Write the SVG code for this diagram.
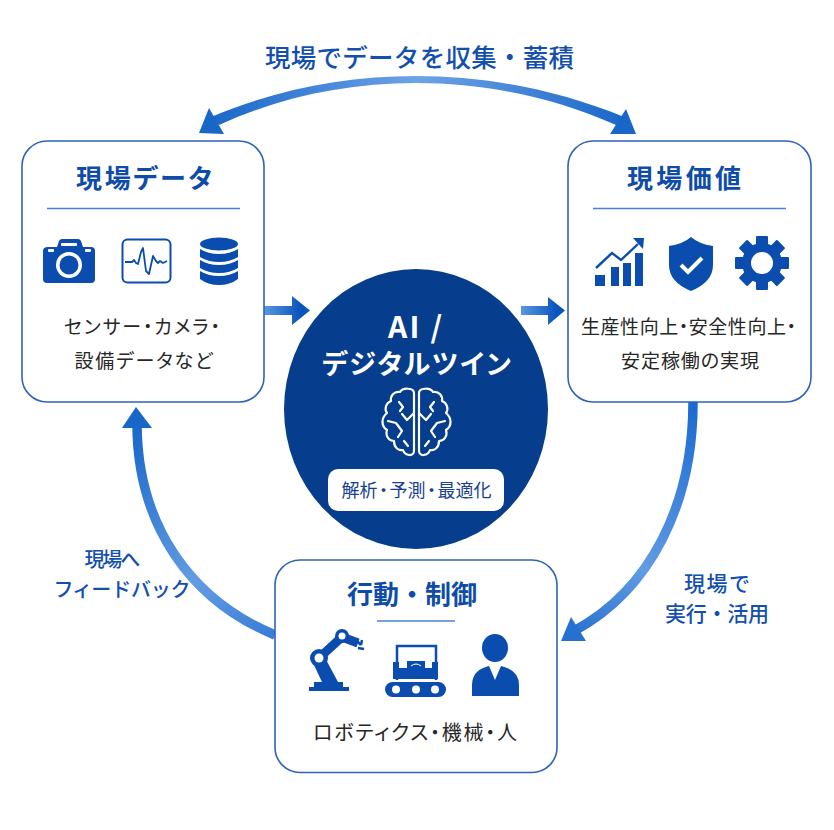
<svg xmlns="http://www.w3.org/2000/svg" xmlns:xlink="http://www.w3.org/1999/xlink" width="834" height="830" viewBox="0 0 834 830">
<style>
text{font-family:"Noto Sans CJK JP","Noto Sans",sans-serif;text-anchor:middle;font-feature-settings:"palt"}
.full{font-feature-settings:normal}
.box{fill:#fff;stroke:#2f62bc;stroke-width:1.6}
.div{stroke:#4a80d8;stroke-width:1.5;fill:none}
.title{fill:#0f4ca8;font-size:26px;font-weight:700}
.lab{fill:#1350ae;font-size:20px;font-weight:500}
.body{fill:#262626;font-size:19px;font-weight:400}
.ic{fill:#0a4dae}
.wh{fill:#fff}
.arc{fill:none}
.br{fill:none;stroke:#fff;stroke-width:2.2;stroke-linecap:round;stroke-linejoin:round}
</style>
<defs>
<linearGradient id="gTop" gradientUnits="userSpaceOnUse" x1="205" y1="0" x2="630" y2="0"><stop offset="0" stop-color="#1766c8"/><stop offset="0.5" stop-color="#6ea3e6"/><stop offset="1" stop-color="#1766c8"/></linearGradient>
<linearGradient id="gRight" gradientUnits="userSpaceOnUse" x1="693" y1="402" x2="570" y2="635"><stop offset="0" stop-color="#1a6ad0"/><stop offset="0.65" stop-color="#629ce3"/><stop offset="1" stop-color="#2670d0"/></linearGradient>
<linearGradient id="gLeft" gradientUnits="userSpaceOnUse" x1="275" y1="635" x2="136" y2="420"><stop offset="0" stop-color="#3a7dd8"/><stop offset="0.35" stop-color="#629ce3"/><stop offset="1" stop-color="#1766c8"/></linearGradient>
<linearGradient id="gL" gradientUnits="userSpaceOnUse" x1="264" y1="0" x2="300" y2="0"><stop offset="0" stop-color="#5b98e2"/><stop offset="1" stop-color="#0a55bd"/></linearGradient>
<linearGradient id="gR" gradientUnits="userSpaceOnUse" x1="521" y1="0" x2="556" y2="0"><stop offset="0" stop-color="#5b98e2"/><stop offset="1" stop-color="#0a55bd"/></linearGradient>
<g id="halfBrain">
<path class="br" d="M414,393C414,388 403,387 400,392C394,391 390,396 391,401C386,403 384,409 387,413C381,418 381,426 387,430C385,436 389,441 394,441C394,448 399,451 403,450C405,456 414,457 414,451Z"/>
<path class="br" d="M414,413L407,420L402,414M399,402L403,407L400,411M388,421L396,423L402,431L398,437M404,441L408,446"/>
</g>
</defs>
<rect width="834" height="830" fill="#fff"/>
<g id="connectors">
<path fill="url(#gTop)" d="M211,117C340,62.300 490,62.300 624,117L616,125C490,69 340,69 219,125Z"/>
<polygon fill="#1766c8" points="199,133 209,108 224,134"/>
<polygon fill="#1766c8" points="636,134 626,109 610,134"/>
<path class="arc" stroke="url(#gRight)" stroke-width="9.500" d="M693,402C693,505 650,590 574,631"/>
<polygon fill="#2670d0" points="561,641 571,617 586,641"/>
<path class="arc" stroke="url(#gLeft)" stroke-width="9.500" d="M275,635C190,600 138,525 137,426"/>
<polygon fill="#1766c8" points="136,407 122,428 152,428"/>
<path fill="url(#gL)" d="M264,306H292V296L310,310.500L292,325V315H264Z"/>
<path fill="url(#gR)" d="M521,306H548V297L565,310.500L548,325V315H521Z"/>
</g>
<text class="lab full" x="419.500" y="67" style="font-size:25.500px" textLength="309">現場でデータを収集・蓄積</text>
<g id="node-data">
<rect class="box" x="22" y="141" width="242" height="261" rx="25"/>
<text class="title" x="144" y="188" textLength="136">現場データ</text>
<path class="div" d="M47,208.500H240"/>
<path class="ic" d="M48,247H57L59,241Q60,239 62,239H78Q80,239 81,241L83,247H91Q95,247 95,251V279Q95,283 91,283H47Q43,283 43,279V251Q43,247 48,247Z"/>
<rect class="wh" x="48" y="249" width="6" height="3" rx="1"/><rect class="wh" x="85" y="249" width="6" height="3" rx="1"/><rect class="wh" x="61" y="243" width="16" height="3" rx="1"/>
<circle class="wh" cx="69" cy="265" r="13"/><circle class="ic" cx="69" cy="265" r="9.500"/>
<rect x="122.500" y="239.500" width="48" height="43" rx="5" fill="#fff" stroke="#0a4dae" stroke-width="2"/>
<path d="M125,262H132L134,260L136,263L138,264L141,252L143,248L146,271L149,274L153,256L156,261L158,263L160,261L163,263L167,261" fill="none" stroke="#0a4dae" stroke-width="1.800" stroke-linejoin="round"/>
<ellipse class="ic" cx="219" cy="244" rx="19" ry="6.500"/>
<path class="ic" d="M200,249Q208,254 219,254Q230,254 238,249V257Q230,262 219,262Q208,262 200,257Z"/>
<path class="ic" d="M200,260Q208,265 219,265Q230,265 238,260V268Q230,273 219,273Q208,273 200,268Z"/>
<path class="ic" d="M200,271Q208,276 219,276Q230,276 238,271V279Q230,285 219,285Q208,285 200,279Z"/>
<text class="body" x="142" y="334" textLength="156">センサー・カメラ・</text>
<text class="body" x="143.500" y="368" textLength="138">設備データなど</text>
</g>
<g id="node-value">
<rect class="box" x="568" y="141" width="243" height="261" rx="25"/>
<text class="title" x="684" y="188" textLength="114">現場価値</text>
<path class="div" d="M593,208.500H786"/>
<rect class="ic" x="595" y="275" width="10" height="11"/><rect class="ic" x="611" y="267" width="8" height="19"/><rect class="ic" x="623" y="263" width="8" height="23"/><rect class="ic" x="635" y="253" width="8" height="33"/>
<path d="M596,268L612,253L621,260L638,244" fill="none" stroke="#0a4dae" stroke-width="2.400"/>
<polygon class="ic" points="633,238 644,238 643,249"/>
<path class="ic" d="M691,237Q699,244 713,246V265Q713,282 691,291Q669,282 669,265V246Q683,244 691,237Z"/>
<path d="M681,265L688,272L702,258" fill="none" stroke="#fff" stroke-width="4"/>
<g transform="translate(762 263)">
<circle class="ic" r="20"/>
<g class="ic"><rect x="-6" y="-27" width="12" height="12" rx="1"/><rect x="-6" y="-27" width="12" height="12" rx="1" transform="rotate(45)"/><rect x="-6" y="-27" width="12" height="12" rx="1" transform="rotate(90)"/><rect x="-6" y="-27" width="12" height="12" rx="1" transform="rotate(135)"/><rect x="-6" y="-27" width="12" height="12" rx="1" transform="rotate(180)"/><rect x="-6" y="-27" width="12" height="12" rx="1" transform="rotate(225)"/><rect x="-6" y="-27" width="12" height="12" rx="1" transform="rotate(270)"/><rect x="-6" y="-27" width="12" height="12" rx="1" transform="rotate(315)"/></g>
<circle class="wh" r="11"/>
</g>
<text class="body" x="688.500" y="334" textLength="215">生産性向上・安全性向上・</text>
<text class="body" x="690" y="368" textLength="138">安定稼働の実現</text>
</g>
<g id="node-ai">
<ellipse cx="416" cy="409" rx="132" ry="140" fill="#063d8c"/>
<text x="415" y="338" fill="#fff" style="font-size:30px;font-weight:700" textLength="54">AI /</text>
<text x="416.500" y="374" fill="#fff" style="font-size:27px;font-weight:700" textLength="189">デジタルツイン</text>
<use href="#halfBrain" xlink:href="#halfBrain"/>
<use href="#halfBrain" xlink:href="#halfBrain" transform="matrix(-1 0 0 1 833 0)"/>
<rect class="wh" x="328" y="469" width="176" height="42" rx="10"/>
<text x="416.500" y="496.500" fill="#1a3f8f" style="font-size:18px;font-weight:400">解析<tspan dx="1.500">・</tspan><tspan dx="1.500">予測</tspan><tspan dx="1.500">・</tspan><tspan dx="1.500">最適化</tspan></text>
</g>
<g id="node-action">
<rect class="box" x="275" y="560" width="282" height="212.500" rx="25"/>
<text class="title full" x="412" y="604" textLength="130">行動・制御</text>
<path class="div" d="M377,621H455"/>
<rect class="ic" x="309" y="687" width="40" height="4"/><rect class="ic" x="314" y="682" width="29" height="5"/>
<path class="ic" d="M314,665L323,654L338,682H322Z"/>
<path d="M319,658L342,637L358,643" fill="none" stroke="#0a4dae" stroke-width="9"/>
<circle class="ic" cx="319" cy="658" r="9"/><circle class="wh" cx="319" cy="658" r="4.500"/>
<circle class="ic" cx="342" cy="636" r="7"/><circle class="wh" cx="342" cy="636" r="3.500"/>
<path d="M356,640L361,645M358,648L364,649M362,640L361,645" fill="none" stroke="#0a4dae" stroke-width="2.500"/>
<rect class="ic" x="385" y="682" width="61" height="15" rx="7.500"/>
<circle class="wh" cx="396" cy="689.500" r="4"/><circle class="wh" cx="416" cy="689.500" r="4"/><circle class="wh" cx="435" cy="689.500" r="4"/>
<path d="M397,680V646H436V680" fill="none" stroke="#0a4dae" stroke-width="2.500"/>
<rect class="ic" x="393" y="662" width="6" height="17"/><rect class="ic" x="432" y="662" width="6" height="17"/><rect class="ic" x="399" y="668" width="33" height="11"/><rect class="ic" x="407" y="661" width="18" height="18"/>
<path d="M411,666Q416,662 421,666" fill="none" stroke="#fff" stroke-width="1"/>
<ellipse class="ic" cx="495" cy="648" rx="13" ry="14"/>
<path class="ic" d="M472,696V685Q472,670 489,666L495,680L501,666Q519,670 519,685V696Z"/>
<text class="body" x="415" y="740" style="font-size:20px" textLength="204">ロボティクス・機械・人</text>
</g>
<text class="lab" x="112.500" y="567" textLength="56">現場へ</text>
<text class="lab" x="122" y="597" textLength="134">フィードバック</text>
<text class="lab full" x="717" y="591" style="font-size:21px" textLength="66">現場で</text>
<text class="lab full" x="717" y="621" style="font-size:21px" textLength="104">実行・活用</text>
</svg>
